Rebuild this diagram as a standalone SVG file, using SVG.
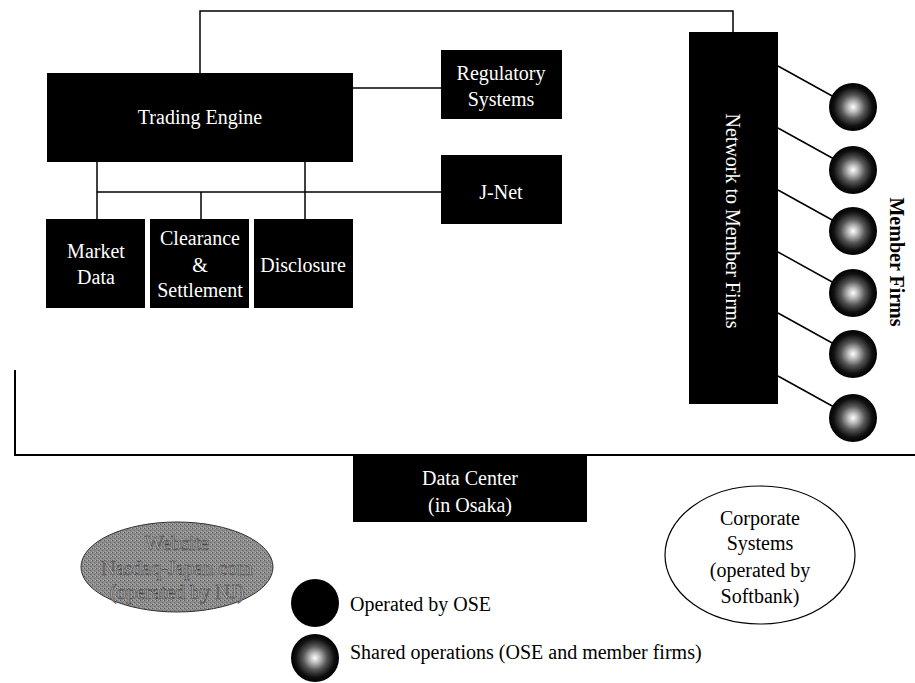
<svg xmlns="http://www.w3.org/2000/svg" width="915" height="683" viewBox="0 0 915 683">
<defs>
<radialGradient id="shared" cx="50%" cy="50%" r="50%">
<stop offset="0%" stop-color="#ffffff"/>
<stop offset="20%" stop-color="#c0c0c0"/>
<stop offset="50%" stop-color="#555"/>
<stop offset="80%" stop-color="#111"/>
<stop offset="100%" stop-color="#000"/>
</radialGradient>
<pattern id="grain" width="4" height="4" patternUnits="userSpaceOnUse">
<rect width="4" height="4" fill="#8c8c8c"/>
<rect x="0" y="0" width="1" height="1" fill="#5a5a5a"/>
<rect x="2" y="2" width="1" height="1" fill="#6a6a6a"/>
<rect x="3" y="0" width="1" height="1" fill="#b0b0b0"/>
<rect x="1" y="3" width="1" height="1" fill="#a8a8a8"/>
</pattern>
</defs>
<style>
.box{fill:#000}
.wt{fill:#fff;font-family:"Liberation Serif",serif;font-size:20px;text-anchor:middle}
.bt{fill:#000;font-family:"Liberation Serif",serif;font-size:20px;text-anchor:middle}
.lt{fill:#000;font-family:"Liberation Serif",serif;font-size:20px}
.ws{fill:#bbb;stroke:#444;stroke-width:0.6}
.ln{stroke:#000;stroke-width:1.5;fill:none}
.mf{fill:url(#shared)}
</style>
<rect width="915" height="683" fill="#fff"/>
<g id="connectors">
<polyline class="ln" points="200,73 200,11 733,11 733,32"/>
<line class="ln" x1="353" y1="88" x2="441" y2="88"/>
<line class="ln" x1="97" y1="192" x2="441" y2="192"/>
<line class="ln" x1="97" y1="162" x2="97" y2="219"/>
<line class="ln" x1="305" y1="162" x2="305" y2="219"/>
<line class="ln" x1="201" y1="192" x2="201" y2="219"/>
<line class="ln" x1="778" y1="66" x2="834" y2="97"/>
<line class="ln" x1="778" y1="128" x2="834" y2="159"/>
<line class="ln" x1="778" y1="190" x2="834" y2="221"/>
<line class="ln" x1="778" y1="252" x2="834" y2="283"/>
<line class="ln" x1="778" y1="313" x2="834" y2="344"/>
<line class="ln" x1="778" y1="376" x2="834" y2="407"/>
<polyline class="ln" points="15,370 15,455 915,455" style="stroke-width:2"/>
</g>
<g id="trading-engine"><rect class="box" x="47" y="73" width="306" height="89"/><text class="wt" x="200" y="124">Trading Engine</text></g>
<g id="regulatory"><rect class="box" x="441" y="50" width="121" height="69"/><text class="wt" x="501" y="80">Regulatory</text><text class="wt" x="501" y="106">Systems</text></g>
<g id="jnet"><rect class="box" x="441" y="155" width="121" height="69"/><text class="wt" x="501" y="199">J-Net</text></g>
<g id="market-data"><rect class="box" x="46" y="219" width="99" height="89"/><text class="wt" x="96" y="258">Market</text><text class="wt" x="96" y="284">Data</text></g>
<g id="clearance"><rect class="box" x="150" y="219" width="99" height="89"/><text class="wt" x="200" y="245">Clearance</text><text class="wt" x="200" y="272">&amp;</text><text class="wt" x="200" y="297">Settlement</text></g>
<g id="disclosure"><rect class="box" x="254" y="219" width="99" height="89"/><text class="wt" x="303" y="272">Disclosure</text></g>
<g id="network"><rect class="box" x="689" y="32" width="89" height="372"/><text class="wt" transform="translate(726,221) rotate(90)">Network to Member Firms</text></g>
<g id="member-firms">
<circle class="mf" cx="853" cy="107" r="24"/>
<circle class="mf" cx="853" cy="170" r="24"/>
<circle class="mf" cx="853" cy="231" r="24"/>
<circle class="mf" cx="853" cy="293" r="24"/>
<circle class="mf" cx="853" cy="354" r="24"/>
<circle class="mf" cx="853" cy="418" r="24"/>
<text class="bt" style="font-weight:bold" transform="translate(890,262) rotate(90)">Member Firms</text>
</g>
<g id="data-center"><rect class="box" x="353" y="456" width="234" height="66"/><text class="wt" x="470" y="485">Data Center</text><text class="wt" x="470" y="512">(in Osaka)</text></g>
<g id="website"><ellipse cx="177" cy="567" rx="96" ry="45" fill="url(#grain)" stroke="#333" stroke-width="1"/>
<text class="bt ws" x="177" y="550">Website</text>
<text class="bt ws" x="177" y="575">Nasdaq-Japan.com</text>
<text class="bt ws" x="177" y="599">(operated by NJ)</text></g>
<g id="corporate"><ellipse cx="760" cy="555" rx="95" ry="69" fill="#fff" stroke="#000" stroke-width="1.2"/>
<text class="bt" x="760" y="525">Corporate</text><text class="bt" x="760" y="550">Systems</text><text class="bt" x="760" y="577">(operated by</text><text class="bt" x="760" y="603">Softbank)</text></g>
<g id="legend">
<circle cx="315" cy="603" r="24" fill="#000"/>
<text class="lt" x="350" y="611">Operated by OSE</text>
<circle class="mf" cx="315" cy="658" r="24"/>
<text class="lt" x="350" y="659">Shared operations (OSE and member firms)</text>
</g>
</svg>
